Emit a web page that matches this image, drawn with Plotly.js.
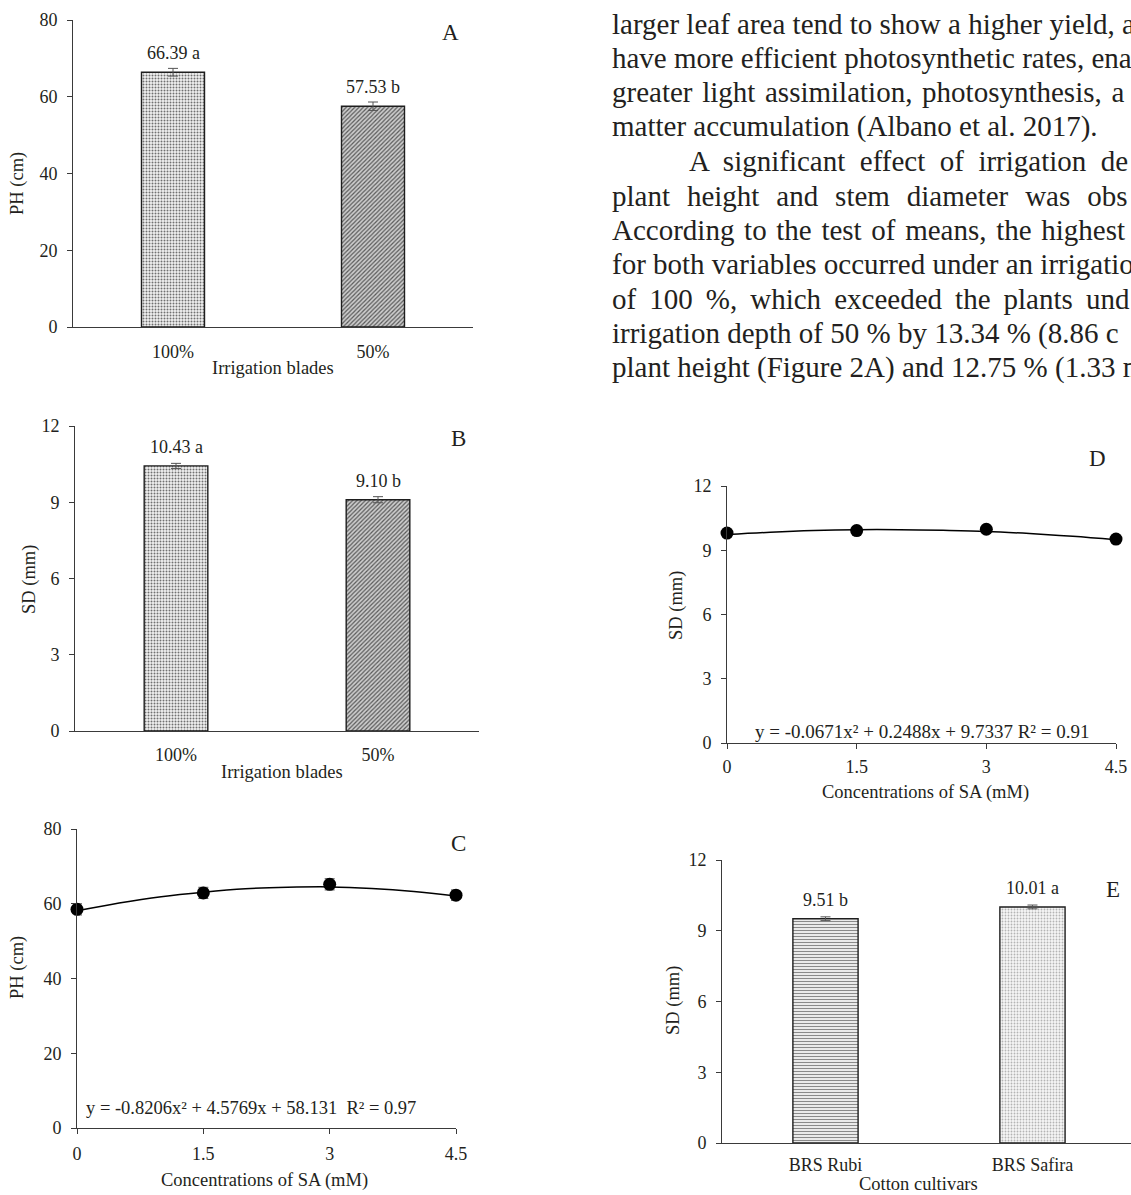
<!DOCTYPE html>
<html><head><meta charset="utf-8">
<script src="https://cdn.plot.ly/plotly-3.0.1.min.js"></script>
<style>html,body{margin:0;padding:0;background:#fff;overflow:hidden}#chart{width:1131px;height:1195px}</style>
</head><body><div id="chart"></div>
<script>
// ---------- DATA ----------
// Panel A: plant height by irrigation depth
const irrigationLevels = ['100%', '50%'];
const phByIrrigation = [66.39, 57.53];
const phByIrrigationErr = [1.0, 1.1];
const phIrrLetters = ['a', 'b'];
// Panel B: stem diameter by irrigation depth
const sdByIrrigation = [10.43, 9.10];
const sdByIrrigationErr = [0.10, 0.12];
const sdIrrLetters = ['a', 'b'];
// Panel C: plant height by SA concentration
const saConc = [0, 1.5, 3, 4.5];
const phBySA = [58.5, 62.9, 65.2, 62.3];
const phBySAErr = [1.5, 1.5, 1.5, 1.4];
const trendX = [0, 0.5, 1, 1.5, 2, 2.5, 3, 3.5, 4, 4.5];
const phTrendY = [58.1, 60.2, 61.9, 63.1, 64.0, 64.4, 64.5, 64.1, 63.3, 62.1];
const phEquation = 'y = -0.8206x\u00B2 + 4.5769x + 58.131  R\u00B2 = 0.97';
// Panel D: stem diameter by SA concentration
const sdBySA = [9.80, 9.92, 9.98, 9.52];
const sdBySAErr = [0.08, 0.08, 0.10, 0.06];
const sdTrendY = [9.73, 9.84, 9.92, 9.96, 9.96, 9.93, 9.88, 9.78, 9.65, 9.49];
const sdEquation = 'y = -0.0671x\u00B2 + 0.2488x + 9.7337 R\u00B2 = 0.91';
// Panel E: stem diameter by cultivar
const cultivars = ['BRS Rubi', 'BRS Safira'];
const sdByCultivar = [9.51, 10.01];
const sdByCultivarErr = [0.08, 0.08];
const sdCultLetters = ['b', 'a'];
// Body text beside the figure (visible part of each justified line)
const paragraphLines = [
  'larger leaf area tend to show a higher yield, a',
  'have more efficient photosynthetic rates, ena',
  'greater light assimilation, photosynthesis, a',
  'matter accumulation (Albano et al. 2017).',
  'A significant effect of irrigation de',
  'plant height and stem diameter was obs',
  'According to the test of means, the highest',
  'for both variables occurred under an irrigation',
  'of 100 %, which exceeded the plants und',
  'irrigation depth of 50 % by 13.34 % (8.86 c',
  'plant height (Figure 2A) and 12.75 % (1.33 m'
];

// ---------- LAYOUT HELPERS ----------
const W = 1131, H = 1195;
const px = v => v / W;
const py = v => 1 - v / H;
const FONT = 'Liberation Serif, Times New Roman, serif';
const INK = '#231f20';
const AX = '#3a3a3a';

function yAxis(domTop, domBot, range, dtick, anchor) {
  return {domain: [py(domBot), py(domTop)], range: range, dtick: dtick, anchor: anchor,
    showline: true, linecolor: AX, linewidth: 1, ticks: 'outside', ticklen: 5, tickcolor: AX,
    showgrid: false, zeroline: false, fixedrange: true, ticklabelstandoff: 6,
    tickfont: {family: FONT, size: 18, color: INK}};
}
function xCatAxis(left, right, range, anchor, standoff) {
  return {domain: [px(left), px(right)], type: 'category', range: range, anchor: anchor,
    showline: true, linecolor: AX, linewidth: 1, ticks: '', showgrid: false, zeroline: false,
    fixedrange: true, ticklabelstandoff: standoff, tickfont: {family: FONT, size: 18, color: INK}};
}
function xNumAxis(left, right, anchor, standoff) {
  return {domain: [px(left), px(right)], range: [0, 4.5], tickvals: saConc, ticktext: saConc.map(String),
    anchor: anchor, showline: true, linecolor: AX, linewidth: 1, ticks: 'outside', ticklen: 5, tickcolor: AX,
    showgrid: false, zeroline: false, fixedrange: true, ticklabelstandoff: standoff,
    tickfont: {family: FONT, size: 18, color: INK}};
}

const dotPat = {shape: '.', fgcolor: '#707070', bgcolor: '#f2f2f2', size: 3, solidity: 0.35};
const hatchPat = {shape: '/', fgcolor: '#5a5a5a', bgcolor: '#cdcdcd', size: 3, solidity: 0.4};
const linePat = {shape: '-', fgcolor: '#8a8a8a', bgcolor: '#ffffff', size: 3, solidity: 0.45};
const finePat = {shape: '.', fgcolor: '#b4b4b4', bgcolor: '#f6f6f6', size: 3, solidity: 0.3};
const errStyle = {type: 'data', color: '#555', thickness: 1, width: 5};

function barTrace(cats, vals, errs, pats, xa, ya) {
  return {type: 'bar', x: cats, y: vals, xaxis: xa, yaxis: ya, width: 0.315,
    error_y: Object.assign({array: errs}, errStyle),
    marker: {color: '#ffffff', pattern: {shape: pats.map(p => p.shape), fgcolor: pats.map(p => p.fgcolor),
      bgcolor: pats.map(p => p.bgcolor), size: pats.map(p => p.size), solidity: pats.map(p => p.solidity)},
      line: {color: '#1e1e1e', width: 1.4}},
    hoverinfo: 'skip', showlegend: false};
}
function pointTrace(xs, ys, errs, xa, ya) {
  return {type: 'scatter', mode: 'markers', x: xs, y: ys, xaxis: xa, yaxis: ya, cliponaxis: false,
    error_y: Object.assign({array: errs}, errStyle),
    marker: {color: '#000', size: 13}, showlegend: false, hoverinfo: 'skip'};
}
function curveTrace(xs, ys, xa, ya) {
  return {type: 'scatter', mode: 'lines', x: xs, y: ys, xaxis: xa, yaxis: ya, cliponaxis: false,
    line: {color: '#000', width: 1.5, shape: 'spline'}, showlegend: false, hoverinfo: 'skip'};
}

const data = [
  barTrace(irrigationLevels, phByIrrigation, phByIrrigationErr, [dotPat, hatchPat], 'x', 'y'),
  barTrace(irrigationLevels, sdByIrrigation, sdByIrrigationErr, [dotPat, hatchPat], 'x2', 'y2'),
  curveTrace(trendX, phTrendY, 'x3', 'y3'),
  pointTrace(saConc, phBySA, phBySAErr, 'x3', 'y3'),
  curveTrace(trendX, sdTrendY, 'x4', 'y4'),
  pointTrace(saConc, sdBySA, sdBySAErr, 'x4', 'y4'),
  barTrace(cultivars, sdByCultivar, sdByCultivarErr, [linePat, finePat], 'x5', 'y5')
];

function ann(text, x, y, size, extra) {
  return Object.assign({text: text, x: px(x), y: py(y), xref: 'paper', yref: 'paper', showarrow: false,
    xanchor: 'center', yanchor: 'middle', font: {family: FONT, size: size, color: INK}}, extra || {});
}
const annotations = [];
function barLabels(cats, vals, letters, xa, ya) {
  cats.forEach((c, i) => annotations.push({text: vals[i].toFixed(2) + ' ' + letters[i], x: c, y: vals[i],
    xref: xa, yref: ya, showarrow: false, yanchor: 'middle', yshift: 19,
    font: {family: FONT, size: 18, color: INK}}));
}
barLabels(irrigationLevels, phByIrrigation, phIrrLetters, 'x', 'y');
barLabels(irrigationLevels, sdByIrrigation, sdIrrLetters, 'x2', 'y2');
barLabels(cultivars, sdByCultivar, sdCultLetters, 'x5', 'y5');
// panel letters
annotations.push(ann('A', 450, 33, 23), ann('B', 458, 438, 23), ann('C', 458, 843, 23),
  ann('D', 1097, 458, 23), ann('E', 1113, 889, 23));
// axis titles
annotations.push(
  ann('PH (cm)', 17, 184, 18.5, {textangle: -90}),
  ann('Irrigation blades', 273, 368, 18.5),
  ann('SD (mm)', 30, 580, 18.5, {textangle: -90}),
  ann('Irrigation blades', 282, 772, 18.5),
  ann('PH (cm)', 17, 968, 18.5, {textangle: -90}),
  ann('Concentrations of SA (mM)', 264, 1180, 18.5),
  ann('SD (mm)', 677, 606, 18.5, {textangle: -90}),
  ann('Concentrations of SA (mM)', 925, 792, 18.5),
  ann('SD (mm)', 673, 1001, 18.5, {textangle: -90}),
  ann('Cotton cultivars', 918, 1184, 18.5)
);
// regression equations
annotations.push(ann(phEquation, 251, 1108, 18.5), ann(sdEquation, 922, 731, 19));
// paragraph text: justified lines approximated with widened word gaps
const gaps = [' ', ' ', ' \u200A', ' ', ' \u00A0', ' \u00A0\u200A', ' \u200A', ' ', ' \u2009', ' ', ' '];
paragraphLines.forEach((t, i) => {
  const baseline = 33.5 + 34.4 * i;
  annotations.push(ann(t.split(' ').join(gaps[i]), i === 4 ? 687 : 610, baseline - 9.8, 29,
    {xanchor: 'left'}));
});

const layout = {
  width: W, height: H, margin: {l: 0, r: 0, t: 0, b: 0},
  paper_bgcolor: '#fff', plot_bgcolor: 'rgba(0,0,0,0)', showlegend: false,
  font: {family: FONT, color: INK},
  xaxis: xCatAxis(73, 473, [-0.5, 1.5], 'y', 8),
  yaxis: yAxis(20, 327, [0, 80], 20, 'x'),
  xaxis2: xCatAxis(75, 479, [-0.5, 1.5], 'y2', 7),
  yaxis2: yAxis(426, 731, [0, 12], 3, 'x2'),
  xaxis3: xNumAxis(77, 456, 'y3', 4),
  yaxis3: yAxis(829, 1128, [0, 80], 20, 'x3'),
  xaxis4: xNumAxis(727, 1116, 'y4', 2),
  yaxis4: yAxis(486, 743, [0, 12], 3, 'x4'),
  xaxis5: xCatAxis(722, 1131, [-0.5, 1.476], 'y5', 5),
  yaxis5: yAxis(860, 1143, [0, 12], 3, 'x5'),
  annotations: annotations
};
Plotly.newPlot('chart', data, layout, {displayModeBar: false, staticPlot: true});
</script>
</body></html>
